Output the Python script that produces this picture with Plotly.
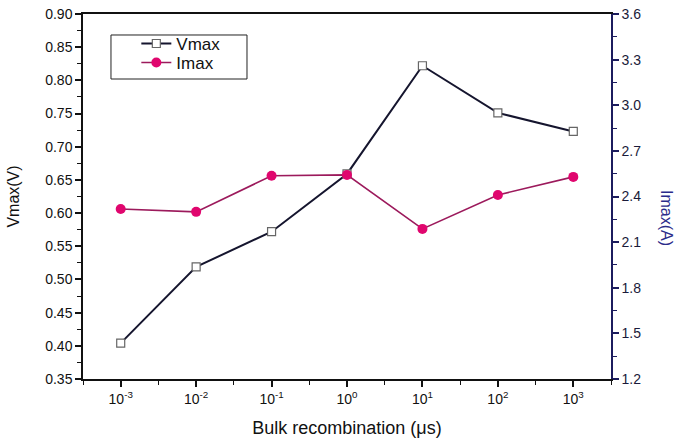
import plotly.graph_objects as go

tau_us = [1e-3, 1e-2, 1e-1, 1e0, 1e1, 1e2, 1e3]
tick_labels = ["10<sup>-3</sup>", "10<sup>-2</sup>", "10<sup>-1</sup>", "10<sup>0</sup>",
               "10<sup>1</sup>", "10<sup>2</sup>", "10<sup>3</sup>"]
vmax = [0.404, 0.519, 0.572, 0.659, 0.822, 0.751, 0.723]
imax = [2.318, 2.299, 2.536, 2.542, 2.187, 2.41, 2.529]

FONT = "Liberation Sans, Arial, sans-serif"
NAVY = "#1c1c5e"

fig = go.Figure()
fig.add_trace(go.Scatter(
    x=tau_us, y=vmax, name="Vmax", mode="lines+markers", legend="legend",
    line=dict(color="#15152e", width=2),
    marker=dict(symbol="square", size=8, color="white", line=dict(color="#666666", width=1.2)),
))
fig.add_trace(go.Scatter(
    x=tau_us, y=imax, name="Imax", mode="lines+markers", yaxis="y2", legend="legend2",
    line=dict(color="#9c1a5c", width=1.6),
    marker=dict(symbol="circle", size=10, color="#e0066e", line=dict(color="#e0066e", width=0)),
))

minor_vals = [10 ** (e + 0.5) for e in range(-4, 4)]

leg_common = dict(xanchor="left", yanchor="middle", borderwidth=0,
                  bgcolor="rgba(0,0,0,0)", font=dict(size=17, family=FONT, color="#111"))

fig.update_layout(
    width=678, height=438,
    margin=dict(l=83, r=67, t=14, b=59, autoexpand=False),
    paper_bgcolor="white", plot_bgcolor="white",
    font=dict(family=FONT, size=13, color="#111111"),
    showlegend=True,
    legend=dict(x=0.101, y=0.918, **leg_common),
    legend2=dict(x=0.101, y=0.866, **leg_common),
    shapes=[dict(type="rect", xref="paper", yref="paper",
                 x0=0.053, x1=0.3106, y0=0.8219, y1=0.9425,
                 line=dict(color="#222222", width=1), fillcolor="rgba(0,0,0,0)")],
    xaxis=dict(
        type="log", range=[-3.5, 3.5], automargin=False,
        tickvals=tau_us, ticktext=tick_labels,
        ticks="outside", ticklen=6, tickwidth=1.5, tickcolor="#111",
        showline=True, linecolor="#111", linewidth=1.5, mirror=True,
        showgrid=False, zeroline=False,
        minor=dict(tickvals=minor_vals, ticks="outside", ticklen=4, tickwidth=1.2, tickcolor="#111"),
        title=dict(text="Bulk recombination (μs)", font=dict(size=18), standoff=16),
        tickfont=dict(size=14),
    ),
    yaxis=dict(
        range=[0.35, 0.90], dtick=0.05, tick0=0.35, tickformat=".2f", automargin=False,
        ticks="outside", ticklen=6, tickwidth=1.5, tickcolor="#111",
        showline=True, linecolor="#111", linewidth=1.5,
        showgrid=False, zeroline=False,
        minor=dict(dtick=0.025, ticks="outside", ticklen=4, tickwidth=1.2, tickcolor="#111"),
        title=dict(text="Vmax(V)", font=dict(size=16), standoff=22),
        tickfont=dict(size=14),
    ),
    yaxis2=dict(
        overlaying="y", side="right", automargin=False,
        range=[1.2, 3.6], dtick=0.3, tick0=1.2, tickformat=".1f",
        ticks="outside", ticklen=6, tickwidth=1.5, tickcolor=NAVY,
        showline=True, linecolor=NAVY, linewidth=1.5,
        showgrid=False, zeroline=False,
        minor=dict(dtick=0.15, ticks="outside", ticklen=4, tickwidth=1.2, tickcolor=NAVY),
        tickfont=dict(size=14, color="#1a1a3a"),
    ),
    annotations=[dict(
        text="Imax(A)", textangle=90, xref="paper", yref="paper",
        x=1.106, y=0.441, xanchor="center", yanchor="middle", showarrow=False,
        font=dict(size=16, color="#2b2b8a", family=FONT),
    )],
)

fig.write_html("out.html")
